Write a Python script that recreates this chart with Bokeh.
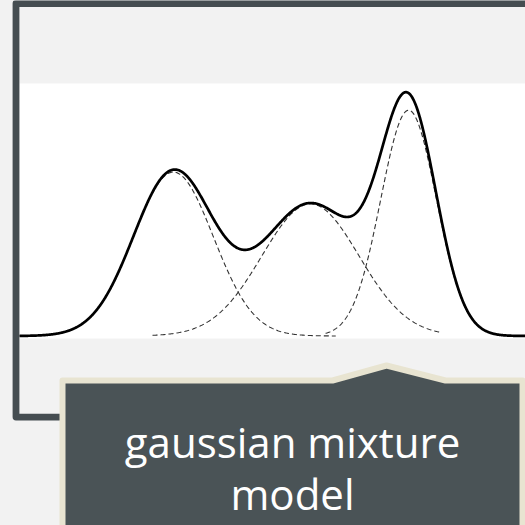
import numpy as np
from bokeh.plotting import figure
from bokeh.models import Range1d
from bokeh.embed import file_html
from bokeh.resources import INLINE
from bokeh.core.properties import value

# ---- data (gaussian mixture) ----
means = [3.04, 5.75, 7.69]
sds = [0.79, 0.96, 0.55]
weights = [0.34, 0.333, 0.326]
comp_start = [0.0, 2.63, 6.05]     # where each dashed component is drawn
comp_end = [6.25, 8.32, 10.0]
x_min, x_max = 0.0, 10.0
label_lines = ["gaussian mixture", "model"]

# ---- colours ----
BG = "#f2f2f2"
FRAME = "#454d51"
BOX = "#4a5356"
BEIGE = "#e8e4d1"


def comp_density(x, m, s, w):
    return w * np.exp(-0.5 * ((x - m) / s) ** 2) / (s * np.sqrt(2 * np.pi))


W = H = 525
p = figure(width=W, height=H, x_range=Range1d(0, 525), y_range=Range1d(525, 0),
           output_backend="svg", toolbar_location=None, min_border=0,
           x_axis_location=None, y_axis_location=None)
p.grid.visible = False
p.outline_line_color = None
p.background_fill_color = BG
p.border_fill_color = BG

# data ranges sharing the same screen
p.extra_x_ranges = {"d": Range1d(-19 / 50.6, (525 - 19) / 50.6)}
p.extra_y_ranges = {"dens": Range1d(-(525 - 335.5) / 954.6, 335.5 / 954.6)}

# white band of the plotting area
p.quad(left=19, right=525, top=83, bottom=338, fill_color="white", line_color=None)

# dashed components
for m, s, w, a, b in zip(means, sds, weights, comp_start, comp_end):
    xs = np.linspace(a, b, 400)
    p.line(xs, comp_density(xs, m, s, w), x_range_name="d", y_range_name="dens",
           line_color="#333333", line_width=1.1, line_dash="5 3")

# mixture
xs = np.linspace(x_min, x_max, 1200)
mix = sum(comp_density(xs, m, s, w) for m, s, w in zip(means, sds, weights))
p.line(xs, mix, x_range_name="d", y_range_name="dens",
       line_color="black", line_width=2.7, line_join="round")

# frame
p.line(x=[560, 15.5, 15.5, 90], y=[3, 3, 416.6, 416.6], line_color=FRAME,
       line_width=6.8, line_join="round")

# callout box with pointer
p.patch(x=[62, 332, 386, 445, 522, 522, 62], y=[380, 380, 365, 380, 380, 540, 540],
        fill_color=BOX, line_color=BEIGE, line_width=6, line_join="round")

# label
p.text(x=[292, 292], y=[441, 493], text=label_lines, text_align="center",
       text_baseline="alphabetic", text_color="white",
       text_font=value("Open Sans"), text_font_size="42px")

html = file_html(p, INLINE)
html = html.replace("<head>", "<head><style>html,body{background:#f2f2f2;}</style>", 1)
open("out.html", "w").write(html)
